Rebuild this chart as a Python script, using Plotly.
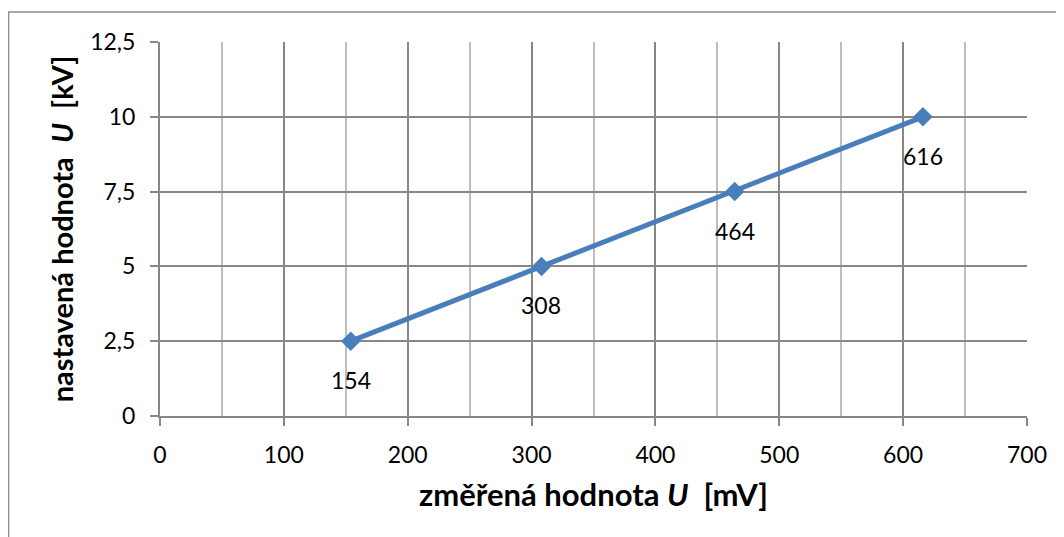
import plotly.graph_objects as go

x_mv = [154, 308, 464, 616]
y_kv = [2.5, 5, 7.5, 10]
point_labels = ["154", "308", "464", "616"]

x_ticks = [0, 100, 200, 300, 400, 500, 600, 700]
y_ticks = [0, 2.5, 5, 7.5, 10, 12.5]
y_ticklabels = ["0", "2,5", "5", "7,5", "10", "12,5"]

FONT = "Lato, 'Open Sans', sans-serif"
BLUE = "#4A7EBB"
MAJOR = "#878787"
MINOR = "#BEBEBE"

fig = go.Figure()
fig.add_trace(go.Scatter(
    x=x_mv, y=y_kv, mode="lines+markers",
    line=dict(color=BLUE, width=5),
    marker=dict(symbol="diamond", size=15, color=BLUE),
    showlegend=False, hoverinfo="skip",
))

for xv, yv, lab in zip(x_mv, y_kv, point_labels):
    fig.add_annotation(x=xv, y=yv, text=lab, showarrow=False,
                       yshift=-39, font=dict(family=FONT, size=23, color="#000000"))

fig.update_layout(
    width=1064, height=537,
    margin=dict(l=152, r=45, t=34, b=129),
    paper_bgcolor="white", plot_bgcolor="white",
    font=dict(family=FONT, size=23, color="#000000"),
    xaxis=dict(
        range=[0, 700], tickvals=x_ticks, ticktext=[str(v) for v in x_ticks],
        showgrid=True, gridcolor=MAJOR, gridwidth=2,
        minor=dict(dtick=50, tick0=0, showgrid=True, gridcolor=MINOR, gridwidth=2, ticks=""),
        showline=True, linecolor=MAJOR, linewidth=2,
        ticks="outside", ticklen=8, tickwidth=2, tickcolor=MAJOR,
        ticklabelstandoff=9,
        zeroline=False, fixedrange=True,
        tickfont=dict(size=23),
        title=dict(text="<b>změřená hodnota <i>U</i>\u00a0\u00a0[mV]</b>",
                   font=dict(size=31, family=FONT), standoff=18),
    ),
    yaxis=dict(
        range=[0, 12.5], tickvals=y_ticks, ticktext=y_ticklabels,
        showgrid=True, gridcolor=MAJOR, gridwidth=2,
        showline=True, linecolor=MAJOR, linewidth=2,
        ticks="outside", ticklen=8, tickwidth=2, tickcolor=MAJOR,
        ticklabelstandoff=10,
        zeroline=False, fixedrange=True,
        tickfont=dict(size=23),
        title=dict(text="<b>nastavená hodnota\u00a0\u00a0<i>U</i>\u00a0\u00a0[kV]</b>",
                   font=dict(size=29, family=FONT), standoff=8),
    ),
)

# outer chart frame
fig.add_shape(type="rect", xref="paper", yref="paper",
              x0=-0.1747, y0=-0.40, x1=1.07, y1=1.0802,
              line=dict(color="#8C8C8C", width=1.5), fillcolor="rgba(0,0,0,0)", layer="below")

fig.write_html("out.html")
